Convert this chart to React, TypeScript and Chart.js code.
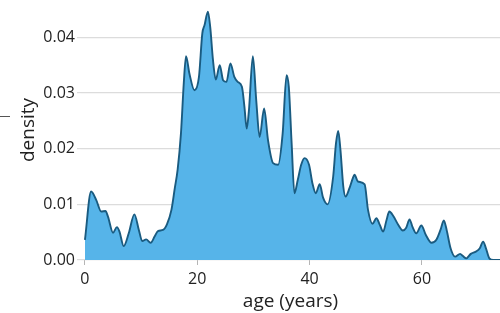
import { useEffect, useRef } from "react";
import { Chart, registerables } from "chart.js";

Chart.register(...registerables);

const ages = [
  0, 1.1, 2.0, 2.9, 3.65, 4.1, 5.0, 5.7, 6.15, 6.9, 7.8, 8.8, 9.6, 10.2, 10.9, 11.7, 12.4, 13.0, 13.9, 14.6,
  15.4, 16.0, 16.5, 17.1, 17.6, 18.0, 18.6, 19.5, 20.3, 20.9, 21.3, 21.9, 22.3, 22.8, 23.3, 24.0, 24.6, 25.2,
  25.9, 26.6, 27.2, 27.95, 28.4, 28.8, 29.2, 29.9, 30.5, 31.1, 31.9, 32.6, 33.5, 34.4, 35.2, 35.9, 36.3, 36.8,
  37.3, 37.9, 38.5, 39.1, 39.9, 40.5, 41.1, 41.8, 42.4, 43.2, 44.2, 44.7, 45.1, 45.5, 46.0, 46.4, 47.1, 47.7,
  48.0, 48.6, 49.8, 50.4, 51.2, 51.9, 52.5, 53.1, 53.7, 54.2, 54.9, 55.8, 56.6, 57.2, 57.8, 58.3, 59.0, 59.9,
  60.7, 61.7, 62.6, 63.3, 63.9, 64.4, 65.1, 65.9, 66.8, 67.3, 67.9, 68.7, 69.6, 70.3, 70.9, 71.4, 72.0, 72.7, 74,
];

const density = [
  0.0036, 0.0123, 0.0108, 0.0087, 0.0088, 0.0078, 0.0049, 0.0059, 0.0051, 0.0025, 0.0048, 0.0082, 0.0054, 0.0034,
  0.0037, 0.0031, 0.0042, 0.0052, 0.0054, 0.0064, 0.009, 0.0129, 0.0162, 0.0228, 0.0318, 0.0366, 0.0335, 0.0305,
  0.0329, 0.0407, 0.0422, 0.0446, 0.0419, 0.0359, 0.0324, 0.035, 0.0323, 0.032, 0.0353, 0.0329, 0.032, 0.0311,
  0.0275, 0.0236, 0.0269, 0.0366, 0.0287, 0.0221, 0.0272, 0.0215, 0.0174, 0.0171, 0.0227, 0.0332, 0.0311, 0.021,
  0.012, 0.0144, 0.0171, 0.0183, 0.0171, 0.0138, 0.012, 0.0136, 0.0112, 0.01, 0.015, 0.021, 0.0232, 0.0197,
  0.0132, 0.0114, 0.0129, 0.0147, 0.0153, 0.0141, 0.0136, 0.009, 0.0065, 0.0075, 0.0063, 0.0051, 0.0072, 0.0087,
  0.0079, 0.0063, 0.0053, 0.0058, 0.0073, 0.006, 0.0048, 0.0062, 0.0045, 0.0031, 0.0037, 0.0054, 0.0071, 0.0054,
  0.0021, 0.0006, 0.0011, 0.0007, 0.0003, 0.0011, 0.0015, 0.0021, 0.0033, 0.0021, 0.0003, 0, 0,
];

const xTicks = [0, 20, 40, 60];
const yTicks = [0, 0.01, 0.02, 0.03, 0.04];

const FONT = "'Open Sans', 'Noto Sans', sans-serif";

const strayMark = {
  id: "strayMark",
  afterDraw(chart: any) {
    const ctx = chart.ctx;
    ctx.save();
    ctx.strokeStyle = "#555";
    ctx.lineWidth = 1;
    ctx.beginPath();
    ctx.moveTo(0, 116.5);
    ctx.lineTo(10, 116.5);
    ctx.stroke();
    ctx.restore();
  },
};

export default function App() {
  const ref = useRef<HTMLCanvasElement>(null);
  useEffect(() => {
    const chart = new Chart(ref.current as HTMLCanvasElement, {
      type: "line",
      data: {
        datasets: [
          {
            data: ages.map((a, i) => ({ x: a, y: density[i] })),
            fill: "origin",
            backgroundColor: "#56B4E9",
            borderColor: "#1a5b80",
            borderWidth: 1.9,
            pointRadius: 0,
            cubicInterpolationMode: "monotone",
          },
        ],
      },
      options: {
        animation: false,
        responsive: false,
        maintainAspectRatio: false,
        layout: { padding: 0 },
        plugins: { legend: { display: false }, tooltip: { enabled: false } },
        scales: {
          x: {
            type: "linear",
            min: -0.7,
            max: 73.9,
            afterBuildTicks: (s: any) => {
              s.ticks = xTicks.map((v) => ({ value: v }));
            },
            afterFit: (s: any) => {
              s.height = 53;
              s.paddingLeft = 0;
              s.paddingRight = 0;
            },
            grid: { drawOnChartArea: false, drawTicks: true, tickLength: 5, color: "#b5b5b5" },
            border: { display: false },
            ticks: {
              font: { family: FONT, size: 16 },
              color: "#222",
              padding: 5,
              maxRotation: 0,
              autoSkip: false,
              callback: (v: any) => String(v),
            },
            title: {
              display: true,
              text: "age (years)",
              font: { family: FONT, size: 19 },
              color: "#222",
              padding: { top: 0, bottom: 0 },
            },
          },
          y: {
            min: 0,
            max: 0.0467,
            afterBuildTicks: (s: any) => {
              s.ticks = yTicks.map((v) => ({ value: v }));
            },
            afterFit: (s: any) => {
              s.width = 81;
              s.paddingTop = 0;
              s.paddingBottom = 0;
            },
            grid: { color: "#dcdcdc", lineWidth: 1.2, drawTicks: true, tickLength: 4 },
            border: { display: false },
            ticks: {
              font: { family: FONT, size: 16 },
              color: "#222",
              padding: 2,
              callback: (v: any) => Number(v).toFixed(2),
            },
            title: {
              display: true,
              text: "density",
              font: { family: FONT, size: 19 },
              color: "#222",
              padding: { top: 17, bottom: 0 },
            },
          },
        },
      },
      plugins: [strayMark],
    });
    return () => chart.destroy();
  }, []);
  return (
    <div style={{ position: "fixed", left: 0, top: 0, width: 500, height: 313, background: "#fff" }}>
      <canvas ref={ref} width={500} height={313} style={{ display: "block" }} />
    </div>
  );
}
